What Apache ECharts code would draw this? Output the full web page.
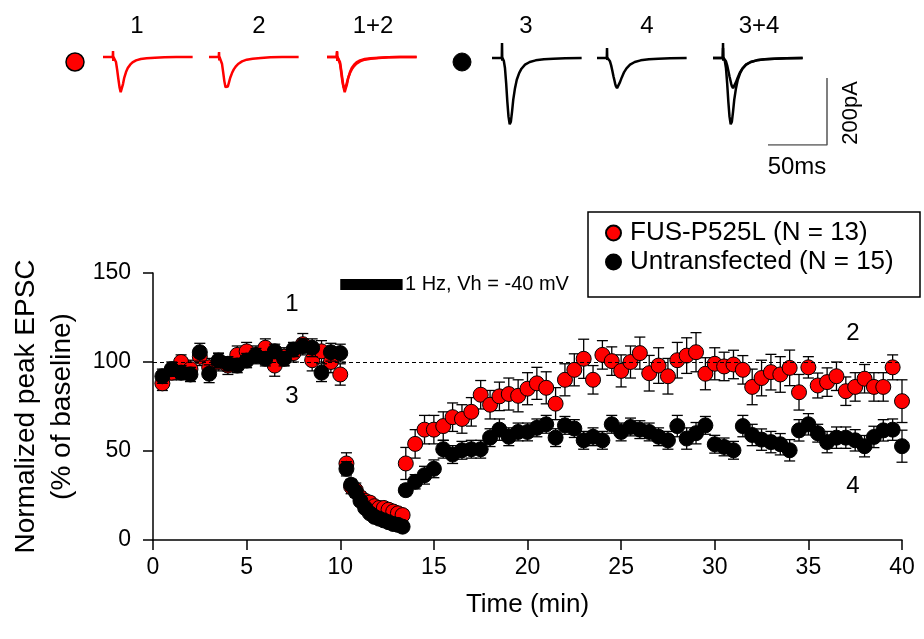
<!DOCTYPE html>
<html>
<head>
<meta charset="utf-8">
<script src="https://cdn.jsdelivr.net/npm/echarts@6/dist/echarts.min.js"></script>
<style>html,body{margin:0;padding:0;background:#fff}#c{width:924px;height:639px}</style>
</head>
<body>
<div id="c"></div>
<script>
// ---------- main time course (min) ----------
var timeMin = [
  0.5,1,1.5,2,2.5,3,3.5,4,4.5,5,5.5,6,6.5,7,7.5,8,8.5,9,9.5,10,
  10.33,10.58,10.83,11.08,11.33,11.58,11.83,12.08,12.33,12.58,12.83,13.08,13.33,
  13.5,14,14.5,15,15.5,16,16.5,17,17.5,18,18.5,19,19.5,20,20.5,21,21.5,22,22.5,23,23.5,24,24.5,25,
  25.5,26,26.5,27,27.5,28,28.5,29,29.5,30,30.5,31,31.5,32,32.5,33,33.5,34,34.5,35,
  35.5,36,36.5,37,37.5,38,38.5,39,39.5,40
];
var fusMean = [
  88,94,100,96,103,97,100,98,104,106,104,108,98,103,105,110,101,106,100,93,
  43,30,28,24,22,21,19,18,18,17,16,15,14,
  43,54,62,62,64,69,68,72,81.6,76,80.7,82,81,85,88,85.5,76.6,90,95.6,101.8,90,104,100.5,95,
  100,105,93.7,98,92,101,103.6,105.5,93.4,99,97.5,98.6,95.6,86,91,94.3,93,96.7,83,97,
  86.8,88.7,92,83.6,86,90.6,86,86,97,78
];
var fusSem = [
  4,4,4,5,5,5,5,5,5,5,5,5,6,5,5,6,6,6,6,6,
  6,4,4,3,3,3,3,3,3,3,3,3,3,
  9,8,8,8,8,8,8,8,8,8,8,9,9,9,9,9,9,9,9,11,8,8,8,9,
  9,9,10,10,10,10,10,11,9,9,8,8,8,10,10,10,10,10,10,6,
  7,8,8,8,8,8,8,8,7,12
];
var untMean = [
  92,96,94,93,105.5,93.4,100.8,99,98,100.8,103.6,101.8,106,101.8,107,109,108,94,105.5,105,
  40,31,27,22,18,15,13,12,11,10,9,8.5,7.5,
  28,32.7,36.4,40,51,48,50.4,51,51,57.5,62,58,60.7,60.7,63,65,57.5,64.4,62.6,56,58,56,65,60.7,
  63.5,62,60.7,58,56,64,57,60,64.4,53.8,52.3,50.4,64,59,56.4,55,53.8,50.4,61.6,65,
  60,55,57.5,57.5,56,52.7,57.9,61.6,62,52.7
];
var untSem = [
  4,4,4,4,5,5,4,4,4,4,4,4,4,4,4,4,5,5,5,5,
  4,3,3,2,2,2,2,2,2,2,2,2,2,
  3,4,5,5,5,5,5,5,5,5,6,5,5,5,5,5,5,5,5,5,5,5,5,5,
  5,5,5,5,5,6,6,6,5,5,5,5,6,6,6,6,6,6,6,6,
  5,6,6,6,6,6,6,6,6,9
];
var xTicks = [0,5,10,15,20,25,30,35,40];
var yTicks = [0,50,100,150];
var baselineLevel = 100;
var stimSpan = [10, 13.33];
var stimBarLevel = 143.5;

// ---------- example EPSC traces (ms, pA) ----------
var traceMs = [0,6,8.3,8.5,8.7,8.9,10,11,12,13,14,15,15.5,16,17,18,19.5,21,23,25,28,32,37,44,52,62,76];
var trace1 = [0,0,0,18,-12,0,-4,-15,-38,-65,-90,-105,-107,-100,-80,-62,-45,-33,-23,-16,-10,-6,-4,-2,-1,0,0];
var trace2 = [0,0,0,15,-10,0,-5,-20,-45,-72,-90,-95,-93,-88,-75,-62,-48,-37,-27,-20,-13,-8,-5,-3,-1,0,0];
var trace3 = [0,0,0,45,-8,0,-8,-30,-75,-130,-175,-198,-200,-190,-160,-125,-90,-65,-45,-32,-20,-12,-7,-4,-2,-1,0];
var trace4 = [0,0,0,30,-6,0,-3,-10,-22,-38,-55,-70,-78,-84,-90,-86,-72,-58,-42,-31,-20,-12,-7,-4,-2,-1,0];
var scaleBarMs = [0,50,50];
var scaleBarPA = [0,0,200];

var FONT = "'Liberation Sans', Arial, sans-serif";
function pairs(xs, ys){ return xs.map(function(x,i){ return [x, ys[i]]; }); }
function triples(xs, ys, es){ return xs.map(function(x,i){ return [x, ys[i], es[i]]; }); }

var fusData = triples(timeMin, fusMean, fusSem);
var untData = triples(timeMin, untMean, untSem);

function errRender(params, api){
  var x = api.value(0), y = api.value(1), e = api.value(2);
  var top = api.coord([x, y + e]), bot = api.coord([x, y - e]);
  var w = 5.5, st = {stroke:'#000', lineWidth:1.3};
  return {type:'group', children:[
    {type:'line', shape:{x1:top[0],y1:top[1],x2:bot[0],y2:bot[1]}, style:st},
    {type:'line', shape:{x1:top[0]-w,y1:top[1],x2:top[0]+w,y2:top[1]}, style:st},
    {type:'line', shape:{x1:bot[0]-w,y1:bot[1],x2:bot[0]+w,y2:bot[1]}, style:st}
  ]};
}

// trace panels
var panels = [
  {left:103, top:40.25, waves:[trace1], color:'#ff0000'},
  {left:209, top:40.25, waves:[trace2], color:'#ff0000'},
  {left:327, top:40.25, waves:[trace1, trace2], color:'#ff0000'},
  {left:492, top:41.25, waves:[trace3], color:'#000000'},
  {left:597, top:41.25, waves:[trace4], color:'#000000'},
  {left:713, top:41.25, waves:[trace3, trace4], color:'#000000'}
];

var grids = [{left:153, top:273, width:749, height:267, outerBoundsMode:'none', containLabel:false}];
var xAxes = [{
  type:'value', gridIndex:0, min:0, max:40, interval:5,
  axisLine:{lineStyle:{color:'#000', width:1.5}},
  axisTick:{inside:false, length:10, lineStyle:{color:'#000', width:1.5}},
  axisLabel:{color:'#000', fontSize:23, fontFamily:FONT, margin:16},
  splitLine:{show:false},
  name:'Time (min)', nameLocation:'middle', nameGap:52,
  nameTextStyle:{color:'#000', fontSize:26, fontFamily:FONT}
}];
var yAxes = [{
  type:'value', gridIndex:0, min:0, max:150, interval:50,
  axisLine:{show:true, lineStyle:{color:'#000', width:1.5}},
  axisTick:{show:true, inside:false, length:10, lineStyle:{color:'#000', width:1.5}},
  axisLabel:{color:'#000', fontSize:23, fontFamily:FONT, margin:22},
  splitLine:{show:false},
  name:'Normalized peak EPSC\n(% of baseline)', nameLocation:'middle', nameGap:73,
  nameTextStyle:{color:'#000', fontSize:28, fontFamily:FONT, lineHeight:36}
}];

var series = [
  {name:'fusErr', type:'custom', xAxisIndex:0, yAxisIndex:0, renderItem:errRender, data:fusData, encode:{x:0,y:1}, z:2, silent:true},
  {name:'FUS-P525L (N = 13)', type:'scatter', xAxisIndex:0, yAxisIndex:0, data:fusData, encode:{x:0,y:1},
   symbol:'circle', symbolSize:15, itemStyle:{color:'#ff0000', borderColor:'#000', borderWidth:1, opacity:1}, z:3,
   markLine:{silent:true, symbol:['none','none'], label:{show:false},
     lineStyle:{color:'#000', type:[4,3], width:1}, data:[{yAxis:baselineLevel}]}},
  {name:'untErr', type:'custom', xAxisIndex:0, yAxisIndex:0, renderItem:errRender, data:untData, encode:{x:0,y:1}, z:4, silent:true},
  {name:'Untransfected (N = 15)', type:'scatter', xAxisIndex:0, yAxisIndex:0, data:untData, encode:{x:0,y:1},
   symbol:'circle', symbolSize:15, itemStyle:{color:'#000', borderColor:'#000', borderWidth:1, opacity:1}, z:5},
  {name:'stim', type:'line', xAxisIndex:0, yAxisIndex:0, data:pairs(stimSpan, [stimBarLevel, stimBarLevel]),
   symbol:'none', lineStyle:{color:'#000', width:11, cap:'butt'}, silent:true, z:6}
];

panels.forEach(function(p, k){
  var gi = k + 1;
  grids.push({left:p.left, top:p.top, width:90, height:100.5, outerBoundsMode:'none'});
  xAxes.push({type:'value', gridIndex:gi, min:0, max:76.3, show:false});
  yAxes.push({type:'value', gridIndex:gi, min:-250, max:50, show:false});
  p.waves.forEach(function(w){
    series.push({type:'line', xAxisIndex:gi, yAxisIndex:gi, data:pairs(traceMs, w), symbol:'none',
      lineStyle:{color:p.color, width:2.5}, silent:true, z:3});
  });
});
// scale bar
var sg = grids.length;
grids.push({left:768, top:78, width:59, height:67, outerBoundsMode:'none'});
xAxes.push({type:'value', gridIndex:sg, min:0, max:50, show:false});
yAxes.push({type:'value', gridIndex:sg, min:0, max:200, show:false});
series.push({type:'line', xAxisIndex:sg, yAxisIndex:sg, data:pairs(scaleBarMs, scaleBarPA), symbol:'none',
  lineStyle:{color:'#555', width:1.5}, silent:true});

function txt(s, x, y, size, extra){
  var o = {type:'text', x:x, y:y, silent:true, z:20,
    style:{text:s, fontSize:size, fontFamily:FONT, fill:'#000',
      textAlign:'center', align:'center', textVerticalAlign:'middle', verticalAlign:'middle'}};
  if (extra) for (var k in extra) o[k] = extra[k];
  return o;
}

var graphics = [
  {type:'circle', shape:{cx:75, cy:62, r:9}, style:{fill:'#ff0000', stroke:'#000', lineWidth:1.5}, silent:true},
  {type:'circle', shape:{cx:462, cy:62, r:9}, style:{fill:'#000', stroke:'#000', lineWidth:1}, silent:true},
  txt('1', 137, 26, 24), txt('2', 259, 26, 24), txt('1+2', 373, 26, 24),
  txt('3', 526, 26, 24), txt('4', 647, 26, 24), txt('3+4', 759, 26, 24),
  txt('50ms', 797, 167, 24),
  txt('200pA', 851, 113, 22, {rotation: Math.PI/2}),
  txt('1', 292, 304, 24), txt('3', 292, 396, 24), txt('2', 853, 333, 24), txt('4', 853, 486, 24),
  {type:'text', x:405, y:284, silent:true, z:20,
    style:{text:'1 Hz, Vh = -40 mV', fontSize:20, fontFamily:FONT, fill:'#000',
      textAlign:'left', align:'left', textVerticalAlign:'middle', verticalAlign:'middle'}},
  {type:'rect', shape:{x:588, y:212, width:332, height:85}, style:{fill:'#fff', stroke:'#000', lineWidth:1.5}, z:-1, silent:true}
];

var chart = echarts.init(document.getElementById('c'), null, {renderer:'canvas'});
chart.setOption({
  animation:false,
  backgroundColor:'#fff',
  grid:grids, xAxis:xAxes, yAxis:yAxes, series:series,
  legend:{data:['FUS-P525L (N = 13)','Untransfected (N = 15)'], orient:'vertical', left:605, top:220,
    itemGap:3, itemWidth:15, itemHeight:15, icon:'circle', padding:0, z:10,
    textStyle:{fontSize:26, fontFamily:FONT, color:'#000', padding:[0,0,0,4]}},
  graphic:graphics
});
</script>
</body>
</html>
